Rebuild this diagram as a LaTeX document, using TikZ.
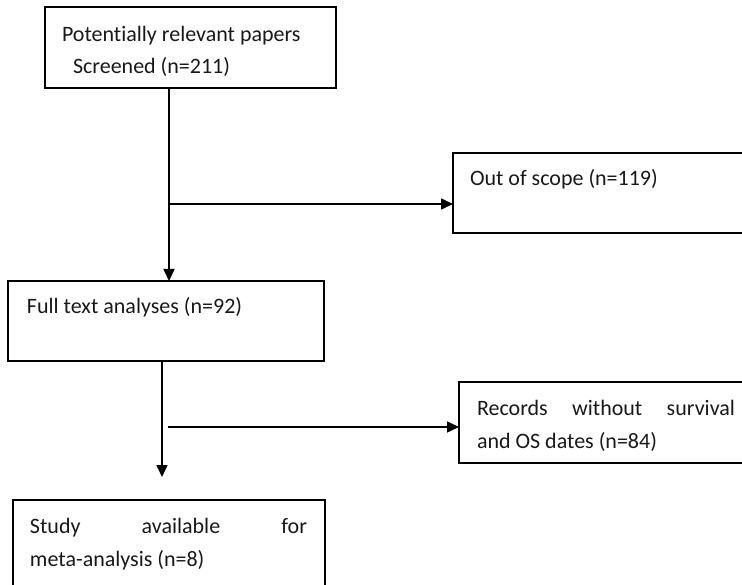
\documentclass[tikz,border=0pt]{standalone}
\usepackage{fontspec}
\setmainfont{Carlito}[Ligatures=NoCommon]
\usetikzlibrary{arrows.meta}
\begin{document}
\begin{tikzpicture}[x=1pt,y=-1pt,
  box/.style={draw=black,line width=1.5pt,rectangle,inner sep=0pt,outer sep=0pt},
  txt/.style={anchor=base west,inner sep=0pt,outer sep=0pt,text=black!90,font=\fontsize{22}{26}\selectfont},
  arr/.style={line width=1.5pt,-{Triangle[length=12pt,width=11pt]}}]
\useasboundingbox (0,0) rectangle (742,585);
\clip (0,0) rectangle (742,585);
% boxes
\node[box,minimum width=291pt,minimum height=81pt] (b1) at (190.5,47.5) {};
\node[box,minimum width=307pt,minimum height=80pt] (oos) at (606.5,193) {};
\node[box,minimum width=316pt,minimum height=80pt] (full) at (166,321) {};
\node[box,minimum width=301pt,minimum height=81pt] (rec) at (609.5,422.5) {};
\node[box,minimum width=312pt,minimum height=100pt] (study) at (169,550) {};
% texts
\node[txt] (t1a) at (62,42) {Potentially relevant papers};
\node[txt] (t1b) at (73,74) {Screened (n=211)};
\node[txt] (t2) at (470,186) {Out of scope (n=119)};
\node[txt] (t3) at (27,314) {Full text analyses (n=92)};
\node[txt] (t4a) at (477,416) {\makebox[258pt][l]{Records\hfill without\hfill survival}};
\node[txt] (t4b) at (477,448) {and OS dates (n=84)};
\node[txt] (t5a) at (30,533) {\makebox[277pt][l]{Study\hfill available\hfill for}};
\node[txt] (t5b) at (30,566) {meta-analysis (n=8)};
% connectors
\coordinate (j1) at (169,204);
\draw[arr] (b1.south -| j1) -- (full.north -| j1);
\draw[arr] (j1) -- (oos.west |- j1);
\coordinate (v2) at (162,0);
\coordinate (tip2) at (162,477);
\draw[arr] (full.south -| v2) -- (tip2);
\coordinate (j2) at (168,427);
\draw[arr] (j2) -- (rec.west |- j2);
\end{tikzpicture}
\end{document}
